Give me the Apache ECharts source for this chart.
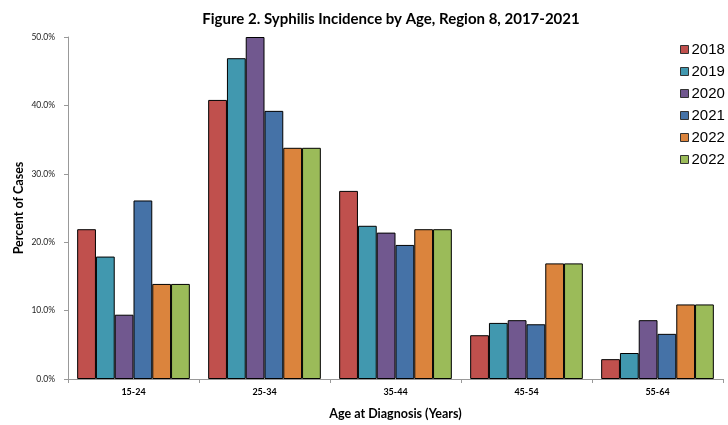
<!DOCTYPE html>
<html>
<head>
<meta charset="utf-8">
<script src="https://cdn.jsdelivr.net/npm/echarts@6/dist/echarts.min.js"></script>
<style>
  html, body { margin: 0; padding: 0; background: #fff; }
  #chart { width: 728px; height: 425px; }
</style>
</head>
<body>
<div id="chart"></div>
<script>
// Age groups along the x axis
const ageGroups = ['15-24', '25-34', '35-44', '45-54', '55-64'];

// Percent of cases per age group, one array per year
const y2018 = [21.9, 40.8, 27.5, 6.4, 2.9];
const y2019 = [17.9, 46.9, 22.4, 8.2, 3.8];
const y2020 = [9.4, 50.0, 21.4, 8.6, 8.6];
const y2021 = [26.1, 39.2, 19.6, 8.0, 6.6];
const y2022a = [13.9, 33.8, 21.9, 16.9, 10.9];
const y2022b = [13.9, 33.8, 21.9, 16.9, 10.9];

const seriesNames = ['2018', '2019', '2020', '2021', '2022', '2022 '];
const seriesData = [y2018, y2019, y2020, y2021, y2022a, y2022b];
const colors = ['#C0504D', '#4198AF', '#71588F', '#4572A7', '#DB843D', '#9BBB59'];

// Y axis tick values (percent)
const yTicks = [0, 10, 20, 30, 40, 50];

const labelFont = 'Lato, "Open Sans", sans-serif';

const chart = echarts.init(document.getElementById('chart'));
chart.setOption({
  animation: false,
  backgroundColor: '#ffffff',
  color: colors,
  title: {
    text: 'Figure 2. Syphilis Incidence by Age, Region 8, 2017-2021',
    left: 386,
    textAlign: 'center',
    top: 7,
    textStyle: { fontFamily: labelFont, fontWeight: 'bold', fontSize: 15, color: '#000' }
  },
  legend: {
    orient: 'vertical',
    left: 680,
    top: 42,
    padding: 0,
    itemWidth: 8,
    itemHeight: 8,
    itemGap: 7,
    icon: 'rect',
    itemStyle: { borderColor: '#333', borderWidth: 1 },
    textStyle: {
      fontFamily: '"Liberation Sans", Arial, sans-serif', fontSize: 15, lineHeight: 15,
      color: '#000', padding: [0, 0, 0, -2]
    },
    data: seriesNames
  },
  grid: { left: 68, right: 5, top: 37, bottom: 45, containLabel: false },
  xAxis: {
    type: 'category',
    data: ageGroups,
    name: 'Age at Diagnosis (Years)',
    nameLocation: 'middle',
    nameGap: 28,
    nameMoveOverlap: false,
    nameTextStyle: { fontFamily: labelFont, fontWeight: 'bold', fontSize: 12.5, color: '#000' },
    axisLine: { lineStyle: { color: '#999', width: 1 } },
    axisTick: { show: true, alignWithLabel: false, length: 4, lineStyle: { color: '#999' } },
    axisLabel: { fontFamily: labelFont, fontWeight: 'bold', fontSize: 9, color: '#000', margin: 9 }
  },
  yAxis: {
    type: 'value',
    min: yTicks[0],
    max: yTicks[yTicks.length - 1],
    interval: 10,
    name: 'Percent of Cases',
    nameLocation: 'middle',
    nameGap: 43,
    nameMoveOverlap: false,
    nameTextStyle: { fontFamily: labelFont, fontWeight: 'bold', fontSize: 12.5, color: '#000' },
    axisLine: { show: true, lineStyle: { color: '#999', width: 1 } },
    axisTick: { show: true, length: 4, lineStyle: { color: '#999' } },
    splitLine: { show: false },
    axisLabel: {
      fontFamily: labelFont, fontSize: 8.5, color: '#222', margin: 13,
      formatter: v => v.toFixed(1) + '%'
    }
  },
  series: seriesNames.map((name, i) => ({
    name: name,
    type: 'bar',
    data: seriesData[i],
    barGap: '0%',
    barCategoryGap: '14%',
    itemStyle: { color: colors[i], borderColor: '#000', borderWidth: 1 }
  }))
});
</script>
</body>
</html>
